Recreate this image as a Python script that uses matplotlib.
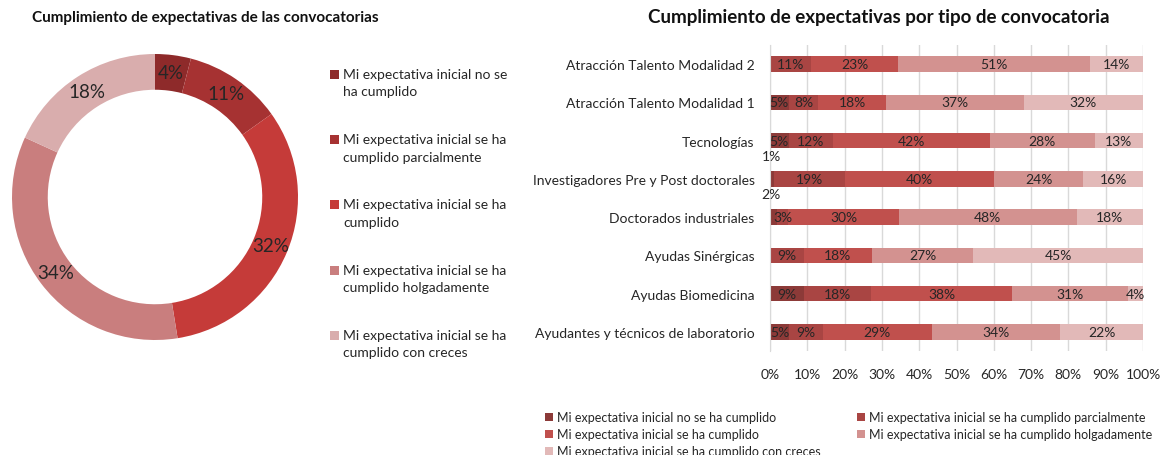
import matplotlib
matplotlib.use('Agg')
import matplotlib.pyplot as plt
import numpy as np
from matplotlib.patches import Rectangle

plt.rcParams['font.family'] = ['Lato', 'DejaVu Sans']

# donut data
donut_labels = ['Mi expectativa inicial no se\nha cumplido',
                'Mi expectativa inicial se ha\ncumplido parcialmente',
                'Mi expectativa inicial se ha\ncumplido',
                'Mi expectativa inicial se ha\ncumplido holgadamente',
                'Mi expectativa inicial se ha\ncumplido con creces']
donut_values = [4, 11, 32, 34, 18]
donut_colors = ['#8e2a2a', '#a63232', '#c53b39', '#c97e7e', '#d9adad']

# stacked bar data
categories = ['Atracción Talento Modalidad 2', 'Atracción Talento Modalidad 1',
              'Tecnologías', 'Investigadores Pre y Post doctorales',
              'Doctorados industriales', 'Ayudas Sinérgicas',
              'Ayudas Biomedicina', 'Ayudantes y técnicos de laboratorio']
series_names = ['Mi expectativa inicial no se ha cumplido',
                'Mi expectativa inicial se ha cumplido parcialmente',
                'Mi expectativa inicial se ha cumplido',
                'Mi expectativa inicial se ha cumplido holgadamente',
                'Mi expectativa inicial se ha cumplido con creces']
no_cumplido = [0, 5, 5, 1, 2, 0, 9, 5]
parcialmente = [11, 8, 12, 19, 3, 9, 18, 9]
cumplido = [23, 18, 42, 40, 30, 18, 38, 29]
holgadamente = [51, 37, 28, 24, 48, 27, 31, 34]
con_creces = [14, 32, 13, 16, 18, 45, 4, 22]
bar_colors = ['#8c3a38', '#a94543', '#c0504d', '#d39290', '#e2b9b8']

txt = '#262626'
W, H = 1166, 456

fig = plt.figure(figsize=(W / 100, H / 100), dpi=100)

# ---- donut ----
ax1 = fig.add_axes([12 / W, (H - 198 - 143) / H, 286 / W, 286 / H])
total = sum(donut_values)
wedges, _, autotexts = ax1.pie(donut_values, colors=donut_colors, startangle=90,
                               counterclock=False, radius=1.0,
                               wedgeprops=dict(width=0.25, linewidth=0),
                               autopct=lambda p: f'{round(p * total / 100):.0f}%',
                               pctdistance=0.875,
                               textprops=dict(fontsize=13.5, color=txt))
ax1.set_xlim(-1, 1)
ax1.set_ylim(-1, 1)
ax1.set_aspect('equal')
fig.text(205 / W, 1 - 18 / H, 'Cumplimiento de expectativas de las convocatorias',
         ha='center', va='center', fontsize=11, fontweight='bold', color='#111111')

# donut legend, square next to the first line of each entry
for k, (lab, col) in enumerate(zip(donut_labels, donut_colors)):
    yc = 75 + k * 65.2
    fig.add_artist(Rectangle((330 / W, 1 - (yc + 5) / H), 9 / W, 9 / H,
                             transform=fig.transFigure, facecolor=col, edgecolor='none'))
    fig.text(343 / W, 1 - (yc - 6) / H, lab, ha='left', va='top', fontsize=10,
             color=txt, linespacing=1.55)

# ---- stacked bars (100% stacked) ----
ax2 = fig.add_axes([770 / W, (H - 352) / H, 373 / W, 306 / H])
series = np.array([no_cumplido, parcialmente, cumplido, holgadamente, con_creces], dtype=float)
shares = series / series.sum(axis=0) * 100
y = np.arange(len(categories))
left = np.zeros(len(categories))
for vals, share, col, name in zip(series, shares, bar_colors, series_names):
    ax2.barh(y, share, left=left, height=0.4, color=col, label=name, zorder=2)
    for i, v in enumerate(vals):
        if v <= 0:
            continue
        if v < 3:
            ax2.text(0.3, i - 0.6, f'{v:.0f}%', ha='center', va='center', fontsize=10, color=txt)
        else:
            ax2.text(left[i] + share[i] / 2, i, f'{v:.0f}%', ha='center', va='center',
                     fontsize=10, color=txt)
    left += share

ax2.set_xlim(0, 100)
ax2.set_ylim(len(categories) - 0.5, -0.5)
ax2.set_yticks(y)
ax2.set_yticklabels(categories, fontsize=10, color=txt)
ax2.set_xticks(np.arange(0, 101, 10))
ax2.set_xticklabels([f'{v}%' for v in range(0, 101, 10)], fontsize=10, color=txt)
ax2.tick_params(length=0)
ax2.tick_params(axis='y', pad=11)
ax2.tick_params(axis='x', pad=12)
ax2.grid(axis='x', color='#d9d9d9', linewidth=1, zorder=0)
for s in ['top', 'right', 'bottom']:
    ax2.spines[s].set_visible(False)
ax2.spines['left'].set_color('#d9d9d9')

fig.text(879 / W, 1 - 18 / H, 'Cumplimiento de expectativas por tipo de convocatoria',
         ha='center', va='center', fontsize=13.5, fontweight='bold', color='#111111')

# bottom legend, row-major like the original
leg_x = [545, 857]
for k, (name, col) in enumerate(zip(series_names, bar_colors)):
    xs = leg_x[k % 2]
    yc = 418 + (k // 2) * 17
    fig.add_artist(Rectangle((xs / W, 1 - (yc + 4) / H), 8 / W, 8 / H,
                             transform=fig.transFigure, facecolor=col, edgecolor='none'))
    fig.text((xs + 12) / W, 1 - yc / H, name, ha='left', va='center', fontsize=9, color=txt)

fig.savefig('out.png', dpi=100)
